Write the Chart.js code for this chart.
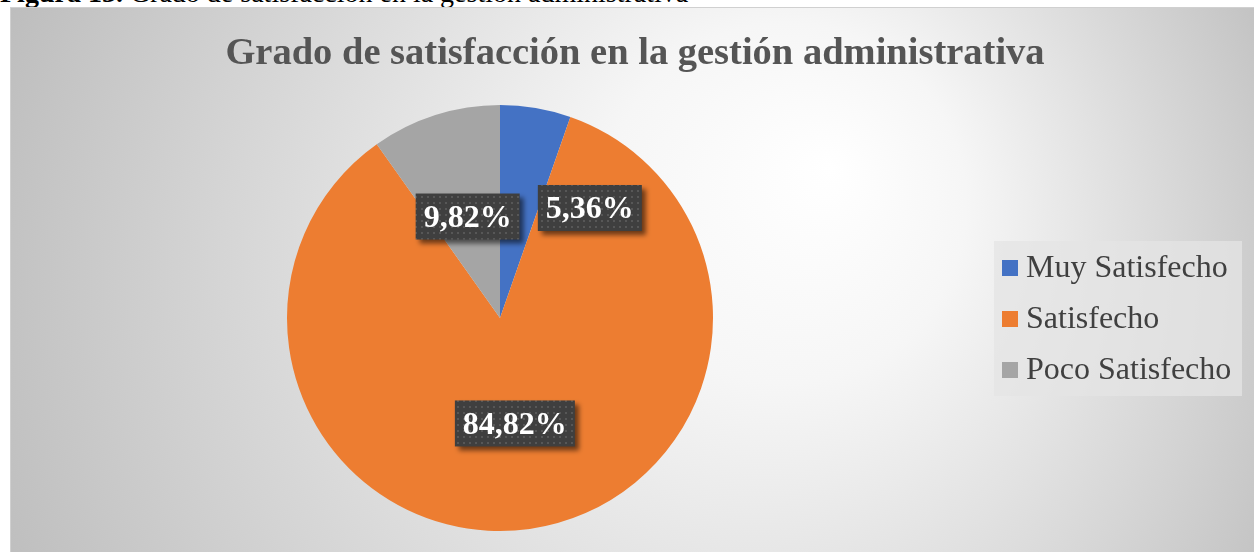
<!DOCTYPE html>
<html>
<head>
<meta charset="utf-8">
<script src="https://cdn.jsdelivr.net/npm/chart.js@4.4.0/dist/chart.umd.min.js"></script>
<style>
    html, body { margin: 0; padding: 0; background: #fff; overflow: hidden; }
    body { width: 1254px; height: 552px; position: relative; font-family: "Liberation Serif", serif; }
    #caption { position: absolute; left: 0; top: -21px; font-size: 28px; line-height: 1; color: #000; white-space: nowrap; }
    #wrap { position: absolute; left: 10px; top: 7px; width: 1244px; height: 545px; border-top: 1px solid #d0d0d0; border-left: 1px solid #d0d0d0; box-sizing: border-box; }
</style>
</head>
<body>
<div id="caption"><b>Figura 13.</b> Grado de satisfacción en la gestión administrativa</div>
<div id="wrap"><canvas id="myChart" width="1243" height="544"></canvas></div>

<script>
// DATOS

const titulo = 'Grado de satisfacción en la gestión administrativa';
const categorias = ['Muy Satisfecho', 'Satisfecho', 'Poco Satisfecho'];
const porcentajes = [5.36, 84.82, 9.82];
const colores = ['#4472C4', '#ED7D31', '#A5A5A5'];

// desplazamiento manual de etiquetas (como en Excel, para que no se pisen)
const ajusteEtiquetas = [[72, -5], [0, 0], [0, 0]];

const ctx = document.getElementById('myChart');

// patron de puntos para las cajas de etiquetas
const patronCanvas = document.createElement('canvas');
patronCanvas.width = 6;
patronCanvas.height = 6;
const pctx = patronCanvas.getContext('2d');
pctx.fillStyle = '#3f3f3f';
pctx.fillRect(0, 0, 6, 6);
pctx.fillStyle = '#575757';
pctx.fillRect(2, 2, 2, 2);

// FONDO

const fondo = {
    id: 'fondo',
    beforeDraw(chart) {
        const c = chart.ctx;
        const g = c.createRadialGradient(820, 160, 0, 640, 300, 720);
        g.addColorStop(0, '#ffffff');
        g.addColorStop(0.25, '#f6f6f6');
        g.addColorStop(1, '#bcbcbc');
        c.save();
        c.fillStyle = g;
        c.fillRect(0, 0, chart.width, chart.height);

        // titulo
        c.fillStyle = '#555555';
        c.font = 'bold 38.5px "Liberation Serif"';
        c.textAlign = 'center';
        c.textBaseline = 'middle';
        c.fillText(titulo, 624, 46);

        // leyenda
        c.fillStyle = 'rgba(228,228,228,0.75)';
        c.fillRect(983, 233, 248, 155);
        c.font = '32px "Liberation Serif"';
        c.textAlign = 'left';
        categorias.forEach((cat, i) => {
            const y = 260 + i * 51;
            c.fillStyle = colores[i];
            c.fillRect(991, y - 8, 16, 16);
            c.fillStyle = '#404040';
            c.fillText(cat, 1015, y + 1);
        });
        c.restore();
    }
}

// ETIQUETAS

const etiquetas = {
    id: 'etiquetas',
    afterDatasetsDraw(chart) {
        const c = chart.ctx;
        const meta = chart.getDatasetMeta(0);
        c.save();
        c.font = 'bold 32px "Liberation Serif"';
        c.textAlign = 'center';
        c.textBaseline = 'middle';
        meta.data.forEach((arc, i) => {
            const pos = arc.tooltipPosition();
            const x = pos.x + ajusteEtiquetas[i][0];
            const y = pos.y + ajusteEtiquetas[i][1];
            const texto = porcentajes[i].toFixed(2).replace('.', ',') + '%';
            const w = c.measureText(texto).width + 16;
            const h = 46;
            c.save();
            c.shadowColor = 'rgba(0,0,0,0.55)';
            c.shadowBlur = 5;
            c.shadowOffsetX = 4;
            c.shadowOffsetY = 4;
            c.fillStyle = c.createPattern(patronCanvas, 'repeat');
            c.fillRect(x - w / 2, y - h / 2, w, h);
            c.restore();
            c.fillStyle = '#ffffff';
            c.fillText(texto, x, y + 2);
        });
        c.restore();
    }
}

// GRAFICA

const myChart = new Chart(ctx, {
    type: 'pie',
    data: {
        labels: categorias,
        datasets: [{
            data: porcentajes,
            backgroundColor: colores,
            borderWidth: 0
        }]
    },
    options: {
        responsive: false,
        animation: false,
        layout: {
            padding: { left: 276, right: 541, top: 97, bottom: 21 }
        },
        plugins: {
            legend: { display: false },
            title: { display: false },
            tooltip: { enabled: false }
        }
    },
    plugins: [fondo, etiquetas]
});
</script>
</body>
</html>
